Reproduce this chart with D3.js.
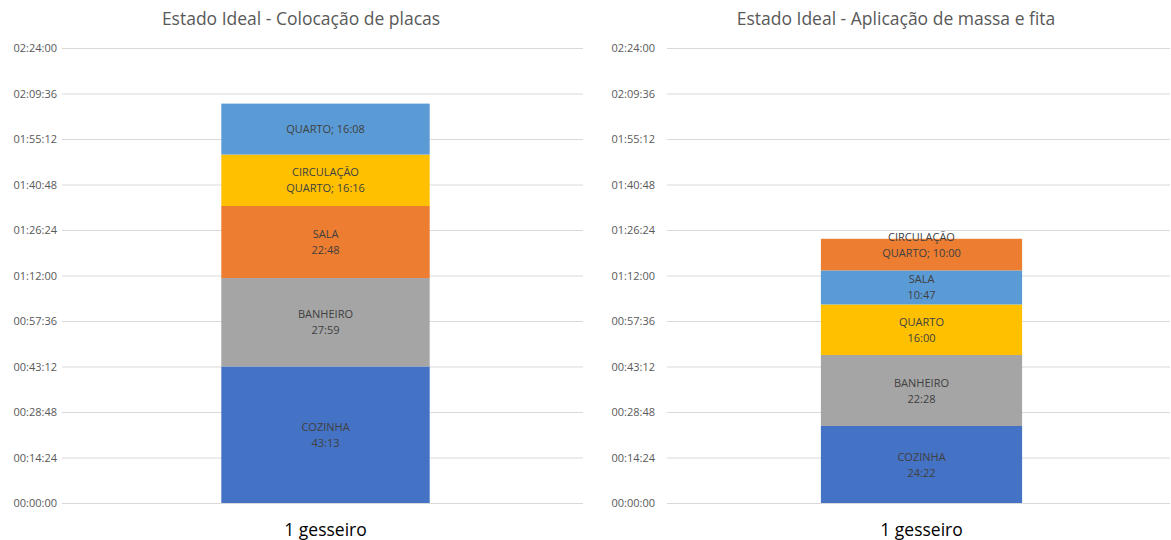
<!DOCTYPE html>
<html><head><meta charset="utf-8">
<script src="https://cdn.jsdelivr.net/npm/d3@7"></script>
<style>body{margin:0;background:#fff}svg{display:block}</style>
</head><body><svg id="c" width="1171" height="540"></svg>
<script>
const categories = ["1 gesseiro"];
const yTickSeconds = [0, 864, 1728, 2592, 3456, 4320, 5184, 6048, 6912, 7776, 8640];

const leftTitle = "Estado Ideal - Colocação de placas";
const leftNames = ["COZINHA", "BANHEIRO", "SALA", "CIRCULAÇÃO QUARTO", "QUARTO"];
const leftValues = [2593, 1679, 1368, 976, 968]; // seconds
const leftColors = ["#4472C4", "#A5A5A5", "#ED7D31", "#FFC000", "#5B9BD5"];
const leftLabelLines = [["COZINHA"], ["BANHEIRO"], ["SALA"], ["CIRCULAÇÃO", "QUARTO; "], ["QUARTO; "]];

const rightTitle = "Estado Ideal - Aplicação de massa e fita";
const rightNames = ["COZINHA", "BANHEIRO", "QUARTO", "SALA", "CIRCULAÇÃO QUARTO"];
const rightValues = [1462, 1348, 960, 647, 600];
const rightColors = ["#4472C4", "#A5A5A5", "#FFC000", "#5B9BD5", "#ED7D31"];
const rightLabelLines = [["COZINHA"], ["BANHEIRO"], ["QUARTO"], ["SALA"], ["CIRCULAÇÃO", "QUARTO; "]];

const pad = n => String(n).padStart(2, "0");
const hms = s => pad(Math.floor(s / 3600)) + ":" + pad(Math.floor(s % 3600 / 60)) + ":" + pad(s % 60);
const ms = s => pad(Math.floor(s / 60)) + ":" + pad(s % 60);

const svg = d3.select("#c");
const FONT = "'Open Sans', 'Noto Sans', sans-serif";

function panel(cfg) {
  const g = svg.append("g");
  const y = d3.scaleLinear().domain([0, 8640]).range([503, 48]);
  const x = d3.scaleBand().domain(categories).range([cfg.bx0, cfg.bx1]).padding(0.4286);

  g.append("text").attr("x", cfg.titleX).attr("y", 25).attr("text-anchor", "middle")
    .attr("font-family", FONT).attr("font-size", 17.5).attr("fill", "#595959").text(cfg.title);

  const ax = g.append("g").attr("transform", `translate(${cfg.x0},0)`)
    .call(d3.axisLeft(y).tickValues(yTickSeconds).tickFormat(hms).tickSize(-(cfg.x1 - cfg.x0)).tickPadding(cfg.x0 - cfg.labelX));
  ax.select(".domain").remove();
  ax.selectAll(".tick line").attr("stroke", "#d9d9d9").attr("stroke-width", 1);
  ax.selectAll(".tick text").attr("font-family", FONT).attr("font-size", 11).attr("fill", "#595959");

  let acc = 0;
  const stack = cfg.values.map((v, i) => { const d = { v, y0: acc, y1: acc + v, i }; acc += v; return d; });

  g.selectAll("rect.seg").data(stack).join("rect").attr("class", "seg")
    .attr("x", x(categories[0])).attr("width", x.bandwidth())
    .attr("y", d => y(d.y1)).attr("height", d => y(d.y0) - y(d.y1))
    .attr("fill", d => cfg.colors[d.i]);

  stack.forEach(d => {
    const lines = cfg.labels[d.i].slice();
    const last = lines[lines.length - 1];
    if (last.endsWith("; ")) lines[lines.length - 1] = last + ms(d.v);
    else lines.push(ms(d.v));
    const cy = (y(d.y0) + y(d.y1)) / 2 + (cfg.shift[d.i] || 0);
    const lh = 16;
    const t = g.append("text").attr("text-anchor", "middle")
      .attr("font-family", FONT).attr("font-size", 11).attr("fill", "#404040");
    lines.forEach((L, k) => {
      t.append("tspan").attr("x", x(categories[0]) + x.bandwidth() / 2)
        .attr("y", cy + (k - (lines.length - 1) / 2) * lh + 4).text(L);
    });
  });

  g.append("text").attr("x", x(categories[0]) + x.bandwidth() / 2).attr("y", 536)
    .attr("text-anchor", "middle").attr("font-family", FONT).attr("font-size", 17.5)
    .attr("fill", "#000").text(categories[0]);
}

panel({ x0: 62, x1: 583, bx0: 65, bx1: 586, labelX: 57, titleX: 301, title: leftTitle, values: leftValues,
  colors: leftColors, labels: leftLabelLines, shift: {} });
panel({ x0: 667, x1: 1170, bx0: 670, bx1: 1173, labelX: 655, titleX: 896, title: rightTitle, values: rightValues,
  colors: rightColors, labels: rightLabelLines, shift: { 4: -10 } });
</script></body></html>
